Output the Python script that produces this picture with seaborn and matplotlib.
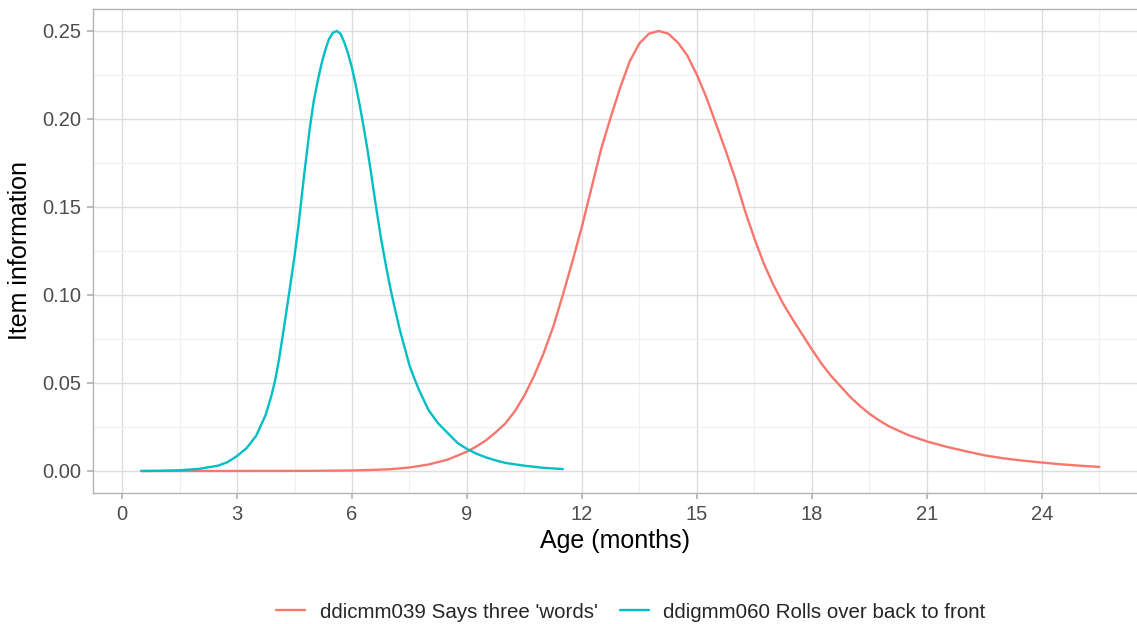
import matplotlib
matplotlib.use("Agg")
import matplotlib.pyplot as plt
import pandas as pd
import seaborn as sns

# values
words_label = "ddicmm039 Says three 'words'"
words_age = [0.5, 3, 4, 5, 6, 6.5, 7, 7.5, 8, 8.5, 9, 9.25, 9.5, 9.75, 10, 10.25,
             10.5, 10.75, 11, 11.25, 11.5, 11.75, 12, 12.25, 12.5, 12.75, 13, 13.25,
             13.5, 13.75, 14, 14.25, 14.5, 14.75, 15, 15.25, 15.5, 15.75, 16, 16.25,
             16.5, 16.75, 17, 17.25, 17.5, 17.75, 18, 18.25, 18.5, 18.75, 19, 19.25,
             19.5, 19.75, 20, 20.5, 21, 21.5, 22, 22.5, 23, 23.5, 24, 24.5, 25, 25.5]
words_info = [0.0, 0.00001, 0.00003, 0.0001, 0.0003, 0.0006, 0.001, 0.002, 0.0037,
              0.0065, 0.011, 0.014, 0.0175, 0.022, 0.027, 0.034,
              0.043, 0.054, 0.067, 0.082, 0.100, 0.119, 0.139, 0.161, 0.183, 0.201,
              0.218, 0.233, 0.243, 0.2485, 0.25, 0.2485, 0.2435, 0.236, 0.225, 0.212,
              0.197, 0.182, 0.166, 0.148, 0.132, 0.1175, 0.1055, 0.095, 0.086, 0.0775,
              0.069, 0.061, 0.054, 0.048, 0.042, 0.037, 0.0325, 0.0288, 0.0255, 0.0205,
              0.0168, 0.0138, 0.0113, 0.0089, 0.0072, 0.0059, 0.0048, 0.0038, 0.0030,
              0.0023]

rolls_label = "ddigmm060 Rolls over back to front"
rolls_age = [0.5, 1, 1.5, 2, 2.5, 2.75, 3, 3.25, 3.5, 3.75, 3.9, 4, 4.1, 4.25, 4.4,
             4.5, 4.6, 4.75, 4.9, 5, 5.1, 5.2, 5.3, 5.4, 5.5, 5.6, 5.7, 5.8, 5.9, 6,
             6.1, 6.2, 6.3, 6.4, 6.5, 6.6, 6.75, 6.9, 7, 7.1, 7.25, 7.4, 7.5, 7.6,
             7.75, 7.9, 8, 8.25, 8.5, 8.75, 9, 9.25, 9.5, 9.75, 10, 10.5, 11, 11.5]
rolls_info = [0.0, 0.0001, 0.0004, 0.0012, 0.003, 0.005, 0.0085, 0.013, 0.020, 0.032,
              0.043, 0.052, 0.064, 0.085, 0.107, 0.122, 0.139, 0.168, 0.195, 0.210,
              0.221, 0.231, 0.239, 0.2455, 0.249, 0.25, 0.2485, 0.2435, 0.237, 0.229,
              0.219, 0.208, 0.196, 0.183, 0.169, 0.154, 0.133, 0.115, 0.104, 0.094,
              0.080, 0.068, 0.060, 0.054, 0.046, 0.039, 0.0345, 0.027, 0.0215, 0.016,
              0.0125, 0.0098, 0.0077, 0.006, 0.0046, 0.003, 0.0018, 0.0011]

x_ticks = [0, 3, 6, 9, 12, 15, 18, 21, 24]
y_ticks = [0.00, 0.05, 0.10, 0.15, 0.20, 0.25]

df = pd.concat([
    pd.DataFrame({"age": words_age, "info": words_info, "item": words_label}),
    pd.DataFrame({"age": rolls_age, "info": rolls_info, "item": rolls_label}),
])

sns.set_theme(style="white")
plt.rcParams["font.family"] = ["Liberation Sans", "DejaVu Sans"]

fig = plt.figure(figsize=(11.37, 6.24), dpi=100)
ax = fig.add_axes([93 / 1137, 131 / 624, 1044 / 1137, 484 / 624])

sns.lineplot(
    data=df, x="age", y="info", hue="item",
    palette={words_label: "#F8766D", rolls_label: "#00BFC4"},
    linewidth=1.7, ax=ax, legend=True,
)

ax.set_xlim(-0.757, 26.48)
ax.set_ylim(-0.0125, 0.2625)
ax.set_xticks(x_ticks)
ax.set_xticks([t + 1.5 for t in x_ticks[:-1]] + [25.5], minor=True)
ax.set_yticks(y_ticks)
ax.set_yticks([t + 0.025 for t in y_ticks[:-1]], minor=True)
ax.set_yticklabels([f"{t:.2f}" for t in y_ticks])

ax.grid(which="major", color="#DEDEDE", linewidth=1.0)
ax.grid(which="minor", color="#F0F0F0", linewidth=0.8)
ax.set_axisbelow(True)

for side in ["left", "bottom", "top"]:
    ax.spines[side].set_color("#B3B3B3")
    ax.spines[side].set_linewidth(1.0)
ax.spines["right"].set_visible(False)

ax.tick_params(axis="both", which="major", length=4, color="#B3B3B3",
               labelsize=14.5, labelcolor="#4D4D4D", bottom=True, left=True)
ax.tick_params(axis="y", which="major", pad=4.5)
ax.tick_params(axis="x", which="major", pad=5)
ax.tick_params(axis="both", which="minor", length=0)

ax.set_xlabel("Age (months)", fontsize=18, color="black", labelpad=3)
ax.set_ylabel("Item information", fontsize=18, color="black", labelpad=7)

handles, labels = ax.get_legend_handles_labels()
ax.get_legend().remove()
fig.legend(handles, labels, loc="center", bbox_to_anchor=(631 / 1137, 1 - 612 / 624),
           ncol=2, frameon=False, fontsize=14.8, handlelength=1.4,
           columnspacing=1.1, handletextpad=0.7)

fig.savefig("out.png", dpi=100)
